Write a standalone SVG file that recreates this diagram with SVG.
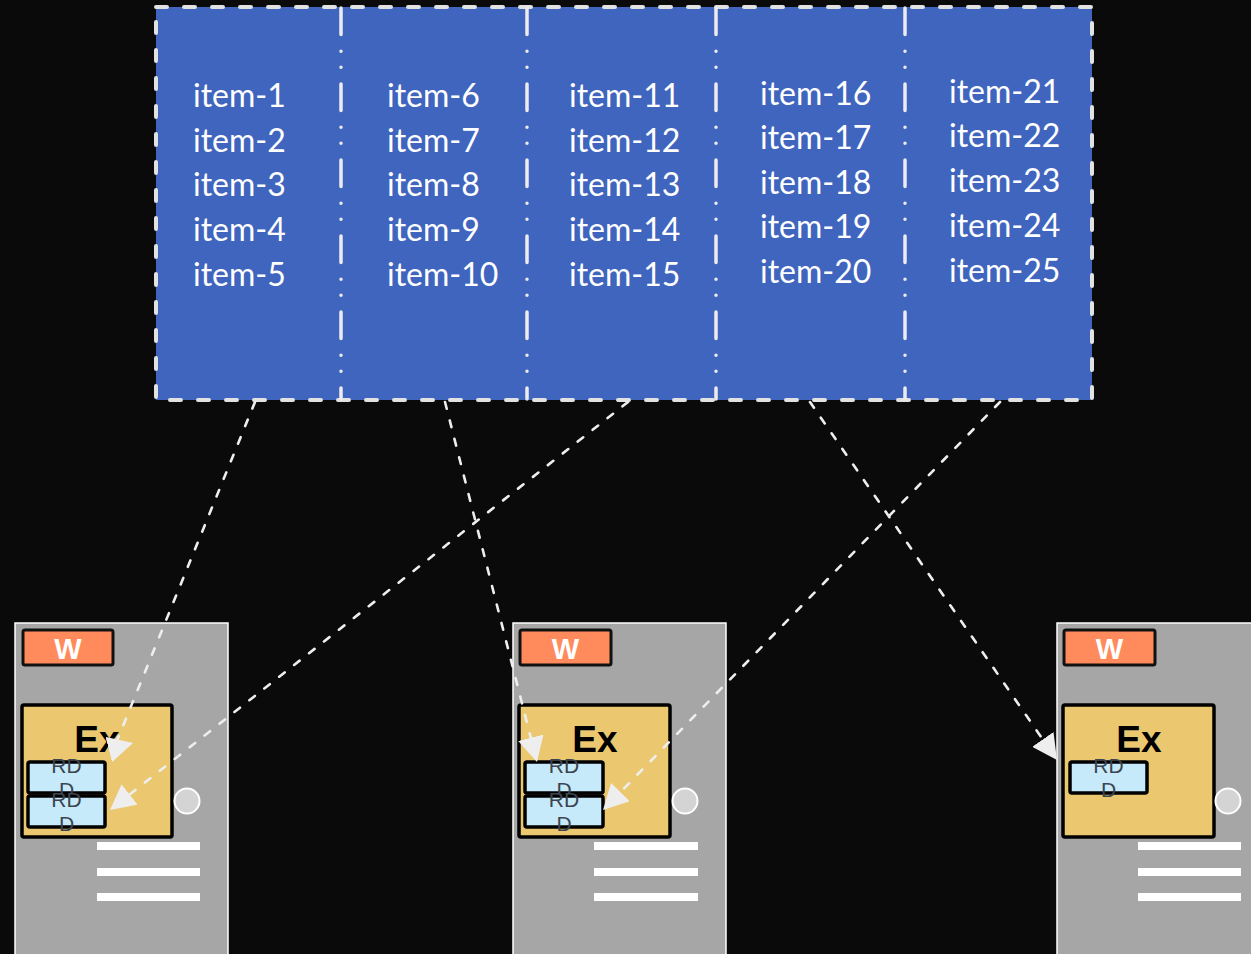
<svg xmlns="http://www.w3.org/2000/svg" width="1251" height="954" viewBox="0 0 1251 954">
<style>
.item{font-family:Lato,"Open Sans","Liberation Sans",sans-serif;font-size:32px;fill:#ffffff}
.div{stroke:#ececec;stroke-width:3.5;stroke-linecap:round;stroke-dasharray:26.5 16.75 0 16 0 16.75;fill:none}
.srv{fill:#a6a6a6;stroke:#ffffff;stroke-width:1.5}
.w{fill:#ff8a5c;stroke:#111;stroke-width:3}
.wt{font-family:"Liberation Sans",Arial,sans-serif;font-weight:bold;font-size:29px;fill:#fff;text-anchor:middle}
.ex{fill:#ebc870;stroke:#000;stroke-width:3.5}
.ext{font-family:"Liberation Sans",Arial,sans-serif;font-weight:bold;font-size:37px;fill:#000;text-anchor:middle}
.rdd{fill:#c6eafa;stroke:#000;stroke-width:3.5}
.rt{font-family:"Liberation Sans",Arial,sans-serif;font-size:21px;fill:#3b4450;text-anchor:middle}
.led{fill:#d4d4d4;stroke:#fff;stroke-width:2}
.bar{fill:#ffffff}
.con{stroke:#eeeeee;stroke-width:2.6;stroke-linecap:round;stroke-dasharray:7 12;fill:none;marker-end:url(#ah)}
</style>
<defs>
<marker id="ah" markerUnits="userSpaceOnUse" viewBox="0 0 25 26" refX="25" refY="13" markerWidth="25" markerHeight="26" orient="auto">
<path d="M0,0 L25,13 L0,26 z" fill="#eeeeee"/>
</marker>
</defs>
<rect x="0" y="0" width="1251" height="954" fill="#0a0a0a"/>

<g id="items-panel">
<rect x="156" y="7" width="936" height="393" fill="#4065be"/>
<rect x="156" y="7" width="936" height="393" fill="none" stroke="#e2e2e2" stroke-width="4" stroke-linecap="round" stroke-dasharray="11 17"/>
<line class="div" x1="341" y1="8" x2="341" y2="399"/>
<line class="div" x1="527" y1="8" x2="527" y2="399"/>
<line class="div" x1="716" y1="8" x2="716" y2="399"/>
<line class="div" x1="905" y1="8" x2="905" y2="399"/>
<g id="col1">
<text class="item" x="193" y="107">item-1</text>
<text class="item" x="193" y="152">item-2</text>
<text class="item" x="193" y="196">item-3</text>
<text class="item" x="193" y="241">item-4</text>
<text class="item" x="193" y="286">item-5</text>
</g>
<g id="col2">
<text class="item" x="387" y="107">item-6</text>
<text class="item" x="387" y="152">item-7</text>
<text class="item" x="387" y="196">item-8</text>
<text class="item" x="387" y="241">item-9</text>
<text class="item" x="387" y="286">item-10</text>
</g>
<g id="col3">
<text class="item" x="569" y="107">item-11</text>
<text class="item" x="569" y="152">item-12</text>
<text class="item" x="569" y="196">item-13</text>
<text class="item" x="569" y="241">item-14</text>
<text class="item" x="569" y="286">item-15</text>
</g>
<g id="col4">
<text class="item" x="760" y="105">item-16</text>
<text class="item" x="760" y="149">item-17</text>
<text class="item" x="760" y="194">item-18</text>
<text class="item" x="760" y="238">item-19</text>
<text class="item" x="760" y="283">item-20</text>
</g>
<g id="col5">
<text class="item" x="949" y="103">item-21</text>
<text class="item" x="949" y="147">item-22</text>
<text class="item" x="949" y="192">item-23</text>
<text class="item" x="949" y="237">item-24</text>
<text class="item" x="949" y="282">item-25</text>
</g>
</g>

<g id="server-1">
<rect class="srv" x="15" y="623" width="213" height="340"/>
<rect class="w" x="23" y="630" width="90" height="35" rx="2"/>
<text class="wt" x="68" y="659">W</text>
<rect class="ex" x="22" y="705" width="150" height="132" rx="2"/>
<text class="ext" x="97" y="752">Ex</text>
<rect class="rdd" x="28" y="762" width="77" height="31" rx="2"/>
<text class="rt" x="66.5" y="773">RD</text>
<text class="rt" x="66.5" y="797">D</text>
<rect class="rdd" x="28" y="796" width="77" height="31" rx="2"/>
<text class="rt" x="66.5" y="807">RD</text>
<text class="rt" x="66.5" y="831">D</text>
<circle class="led" cx="187" cy="801" r="12.5"/>
<rect class="bar" x="97" y="842" width="103" height="8"/>
<rect class="bar" x="97" y="868" width="103" height="8"/>
<rect class="bar" x="97" y="893" width="103" height="8"/>
</g>

<g id="server-2">
<rect class="srv" x="513" y="623" width="213" height="340"/>
<rect class="w" x="520" y="630" width="91" height="35" rx="2"/>
<text class="wt" x="565.5" y="659">W</text>
<rect class="ex" x="519" y="705" width="151" height="132" rx="2"/>
<text class="ext" x="595" y="752">Ex</text>
<rect class="rdd" x="525" y="762" width="78" height="31" rx="2"/>
<text class="rt" x="564" y="773">RD</text>
<text class="rt" x="564" y="797">D</text>
<rect class="rdd" x="525" y="796" width="78" height="31" rx="2"/>
<text class="rt" x="564" y="807">RD</text>
<text class="rt" x="564" y="831">D</text>
<circle class="led" cx="685" cy="801" r="12.5"/>
<rect class="bar" x="594" y="842" width="104" height="8"/>
<rect class="bar" x="594" y="868" width="104" height="8"/>
<rect class="bar" x="594" y="893" width="104" height="8"/>
</g>

<g id="server-3">
<rect class="srv" x="1057" y="623" width="213" height="340"/>
<rect class="w" x="1064" y="630" width="91" height="35" rx="2"/>
<text class="wt" x="1109.5" y="659">W</text>
<rect class="ex" x="1063" y="705" width="151" height="132" rx="2"/>
<text class="ext" x="1139" y="752">Ex</text>
<rect class="rdd" x="1070" y="762" width="77" height="31" rx="2"/>
<text class="rt" x="1108.5" y="773">RD</text>
<text class="rt" x="1108.5" y="797">D</text>
<circle class="led" cx="1228" cy="801" r="12.5"/>
<rect class="bar" x="1138" y="842" width="103" height="8"/>
<rect class="bar" x="1138" y="868" width="103" height="8"/>
<rect class="bar" x="1138" y="893" width="103" height="8"/>
</g>

<g id="connectors">
<path class="con" d="M255,402 L114,748 L133,743"/>
<path class="con" d="M628,402 L110,810"/>
<path class="con" d="M445,402 L537,762"/>
<path class="con" d="M1000,402 L603,810"/>
<path class="con" d="M810,402 L1057,760"/>
</g>
</svg>
